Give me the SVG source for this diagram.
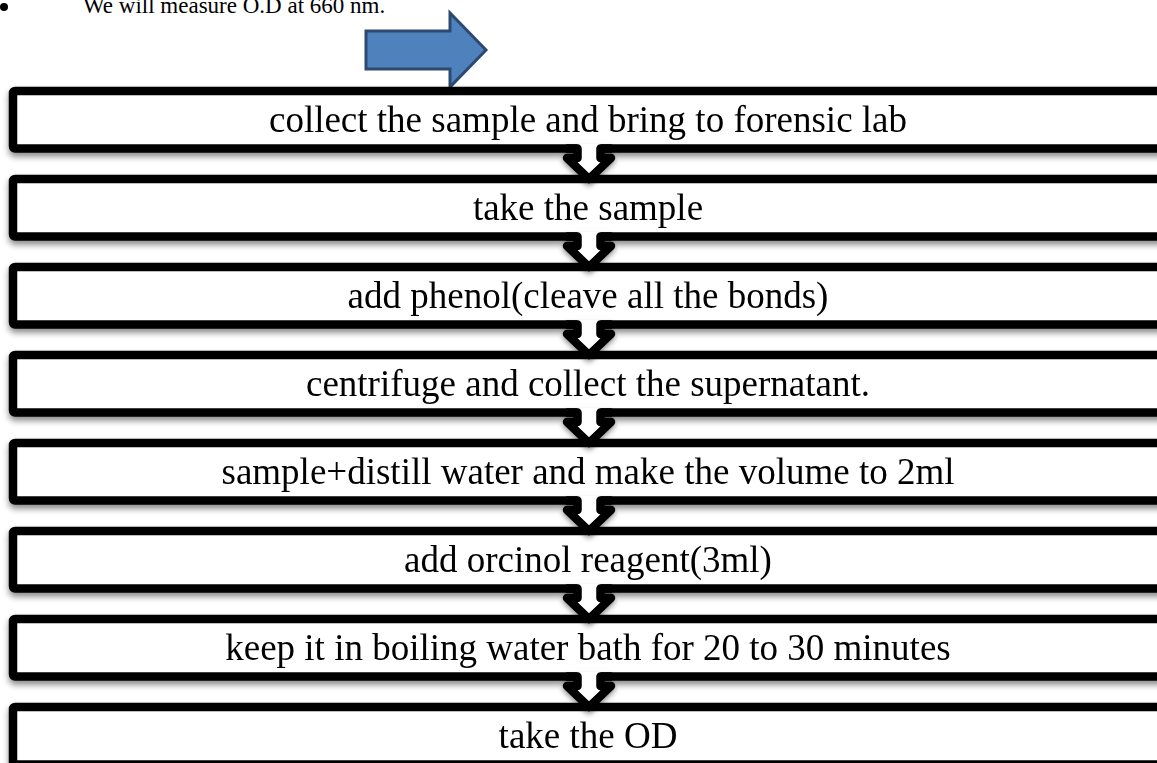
<svg xmlns="http://www.w3.org/2000/svg" width="1157" height="763" viewBox="0 0 1157 763">
<style>
.box{fill:#fff;stroke:#000;stroke-width:8.5}
.lbl{font-family:"Liberation Serif","Times New Roman",serif;font-size:37px;fill:#000;text-anchor:middle}
.top{font-family:"Liberation Serif","Times New Roman",serif;font-size:23px;fill:#000}
.chf{fill:#fff;stroke:none}
.chs{fill:none;stroke:#000;stroke-width:8.5;stroke-linejoin:round}
</style>
<defs>
<filter id="sh" x="-5%" y="-20%" width="110%" height="160%">
<feDropShadow dx="0" dy="4" stdDeviation="3" flood-color="#000" flood-opacity="0.45"/>
</filter>
<filter id="sh2" x="-50%" y="-50%" width="200%" height="200%">
<feDropShadow dx="0" dy="3" stdDeviation="2.5" flood-color="#000" flood-opacity="0.4"/>
</filter>
</defs>
<rect width="1157" height="763" fill="#fff"/>
<g id="note">
<circle cx="4" cy="7" r="4" fill="#000"/>
<text class="top" x="83" y="12.5">We will measure O.D at 660 nm.</text>
</g>
<g id="bluearrow">
<path d="M366 31 L450 31 L450 13 L486 50 L450 87 L450 69 L366 69 Z" fill="#4F81BD" stroke="#2C4A70" stroke-width="3" stroke-linejoin="miter"/>
</g>
<g id="step1" filter="url(#sh)"><rect class="box" x="13" y="91" width="1160" height="57.5" rx="2"/><text class="lbl" x="588" y="131.7">collect the sample and bring to forensic lab</text></g>
<g id="step2" filter="url(#sh)"><rect class="box" x="13" y="179" width="1160" height="57.5" rx="2"/><text class="lbl" x="588" y="219.7">take the sample</text></g>
<g id="step3" filter="url(#sh)"><rect class="box" x="13" y="267" width="1160" height="57.5" rx="2"/><text class="lbl" x="588" y="307.7">add phenol(cleave all the bonds)</text></g>
<g id="step4" filter="url(#sh)"><rect class="box" x="13" y="355" width="1160" height="57.5" rx="2"/><text class="lbl" x="588" y="395.7">centrifuge and collect the supernatant.</text></g>
<g id="step5" filter="url(#sh)"><rect class="box" x="13" y="443" width="1160" height="57.5" rx="2"/><text class="lbl" x="588" y="483.7">sample+distill water and make the volume to 2ml</text></g>
<g id="step6" filter="url(#sh)"><rect class="box" x="13" y="531" width="1160" height="57.5" rx="2"/><text class="lbl" x="588" y="571.7">add orcinol reagent(3ml)</text></g>
<g id="step7" filter="url(#sh)"><rect class="box" x="13" y="619" width="1160" height="57.5" rx="2"/><text class="lbl" x="588" y="659.7">keep it in boiling water bath for 20 to 30 minutes</text></g>
<g id="step8" filter="url(#sh)"><rect class="box" x="13" y="707" width="1160" height="57.5" rx="2"/><text class="lbl" x="588" y="747.7">take the OD</text></g>
<g id="connectors">
<g id="c1"><g filter="url(#sh2)">
<path class="chf" d="M577.5 144 L600.5 144 L600.5 158 L611 158 L589 179 L567 158 L577.5 158 Z"/>
<path class="chs" d="M566 148.5 L577.5 148.5 L577.5 158 L567 158 L589 179 L611 158 L600.5 158 L600.5 148.5 L612 148.5"/></g></g>
<g id="c2" transform="translate(0,88)"><g filter="url(#sh2)">
<path class="chf" d="M577.5 144 L600.5 144 L600.5 158 L611 158 L589 179 L567 158 L577.5 158 Z"/>
<path class="chs" d="M566 148.5 L577.5 148.5 L577.5 158 L567 158 L589 179 L611 158 L600.5 158 L600.5 148.5 L612 148.5"/></g></g>
<g id="c3" transform="translate(0,176)"><g filter="url(#sh2)">
<path class="chf" d="M577.5 144 L600.5 144 L600.5 158 L611 158 L589 179 L567 158 L577.5 158 Z"/>
<path class="chs" d="M566 148.5 L577.5 148.5 L577.5 158 L567 158 L589 179 L611 158 L600.5 158 L600.5 148.5 L612 148.5"/></g></g>
<g id="c4" transform="translate(0,264)"><g filter="url(#sh2)">
<path class="chf" d="M577.5 144 L600.5 144 L600.5 158 L611 158 L589 179 L567 158 L577.5 158 Z"/>
<path class="chs" d="M566 148.5 L577.5 148.5 L577.5 158 L567 158 L589 179 L611 158 L600.5 158 L600.5 148.5 L612 148.5"/></g></g>
<g id="c5" transform="translate(0,352)"><g filter="url(#sh2)">
<path class="chf" d="M577.5 144 L600.5 144 L600.5 158 L611 158 L589 179 L567 158 L577.5 158 Z"/>
<path class="chs" d="M566 148.5 L577.5 148.5 L577.5 158 L567 158 L589 179 L611 158 L600.5 158 L600.5 148.5 L612 148.5"/></g></g>
<g id="c6" transform="translate(0,440)"><g filter="url(#sh2)">
<path class="chf" d="M577.5 144 L600.5 144 L600.5 158 L611 158 L589 179 L567 158 L577.5 158 Z"/>
<path class="chs" d="M566 148.5 L577.5 148.5 L577.5 158 L567 158 L589 179 L611 158 L600.5 158 L600.5 148.5 L612 148.5"/></g></g>
<g id="c7" transform="translate(0,528)"><g filter="url(#sh2)">
<path class="chf" d="M577.5 144 L600.5 144 L600.5 158 L611 158 L589 179 L567 158 L577.5 158 Z"/>
<path class="chs" d="M566 148.5 L577.5 148.5 L577.5 158 L567 158 L589 179 L611 158 L600.5 158 L600.5 148.5 L612 148.5"/></g></g>
</g>
</svg>
